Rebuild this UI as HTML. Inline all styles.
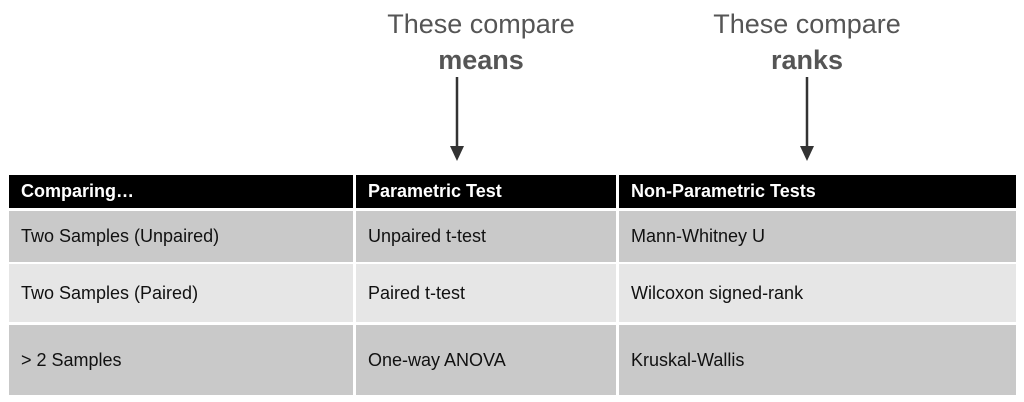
<!DOCTYPE html>
<html><head><style>
body{margin:0;width:1024px;height:402px;background:#fff;position:relative;overflow:hidden;font-family:"Liberation Sans",sans-serif}
.t{position:absolute;color:#555;font-size:27px;text-align:center;width:300px;line-height:36px}
.c{position:absolute;box-sizing:border-box;padding-left:12px;display:flex;align-items:center;font-size:18px;color:#111}
.h{background:#000;color:#fff;font-weight:bold;font-size:18px}
.g{background:#c9c9c9}.l{background:#e6e6e6}
</style></head><body>
<div class="t" style="left:331px;top:6px">These compare<br><b>means</b></div>
<div class="t" style="left:657px;top:6px">These compare<br><b>ranks</b></div>
<svg width="1024" height="170" style="position:absolute;left:0;top:0">
<line x1="457" y1="77" x2="457" y2="150" stroke="#333" stroke-width="2.5"/>
<polygon points="450,146 464,146 457,161" fill="#333"/>
<line x1="807" y1="77" x2="807" y2="150" stroke="#333" stroke-width="2.5"/>
<polygon points="800,146 814,146 807,161" fill="#333"/>
</svg>
<div class="c h" style="left:9px;top:175px;width:344px;height:33px">Comparing…</div>
<div class="c h" style="left:356px;top:175px;width:260px;height:33px">Parametric Test</div>
<div class="c h" style="left:619px;top:175px;width:397px;height:33px">Non-Parametric Tests</div>
<div class="c g" style="left:9px;top:211px;width:344px;height:51px">Two Samples (Unpaired)</div>
<div class="c g" style="left:356px;top:211px;width:260px;height:51px">Unpaired t-test</div>
<div class="c g" style="left:619px;top:211px;width:397px;height:51px">Mann-Whitney U</div>
<div class="c l" style="left:9px;top:264px;width:344px;height:58px">Two Samples (Paired)</div>
<div class="c l" style="left:356px;top:264px;width:260px;height:58px">Paired t-test</div>
<div class="c l" style="left:619px;top:264px;width:397px;height:58px">Wilcoxon signed-rank</div>
<div class="c g" style="left:9px;top:325px;width:344px;height:70px">&gt; 2 Samples</div>
<div class="c g" style="left:356px;top:325px;width:260px;height:70px">One-way ANOVA</div>
<div class="c g" style="left:619px;top:325px;width:397px;height:70px">Kruskal-Wallis</div>
</body></html>
